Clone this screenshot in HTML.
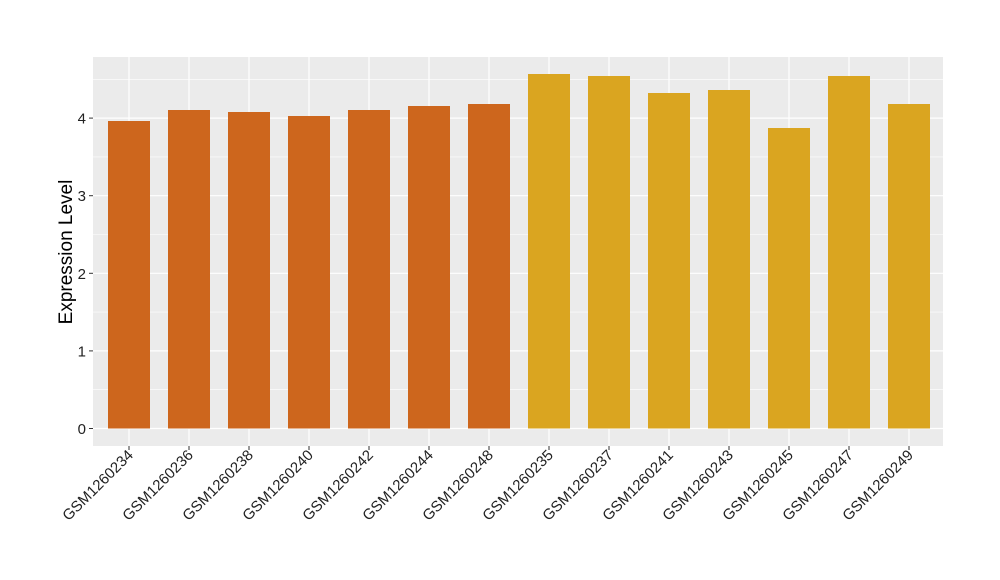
<!DOCTYPE html>
<html><head><meta charset="utf-8"><style>body{margin:0;background:#fff}svg{display:block}</style></head>
<body>
<svg width="1000" height="580" xmlns="http://www.w3.org/2000/svg" font-family="Liberation Sans, sans-serif">
<rect x="93" y="57" width="850" height="389" fill="#EBEBEB"/>
<g stroke="#fff" stroke-width="0.6">
<line x1="93" x2="943" y1="389.7" y2="389.7"/><line x1="93" x2="943" y1="312.1" y2="312.1"/><line x1="93" x2="943" y1="234.5" y2="234.5"/><line x1="93" x2="943" y1="156.9" y2="156.9"/><line x1="93" x2="943" y1="79.3" y2="79.3"/>
</g>
<g stroke="#fff" stroke-width="1.2">
<line x1="93" x2="943" y1="428.5" y2="428.5"/><line x1="93" x2="943" y1="350.9" y2="350.9"/><line x1="93" x2="943" y1="273.3" y2="273.3"/><line x1="93" x2="943" y1="195.7" y2="195.7"/><line x1="93" x2="943" y1="118.1" y2="118.1"/>
<line x1="129" x2="129" y1="57" y2="446"/><line x1="189" x2="189" y1="57" y2="446"/><line x1="249" x2="249" y1="57" y2="446"/><line x1="309" x2="309" y1="57" y2="446"/><line x1="369" x2="369" y1="57" y2="446"/><line x1="429" x2="429" y1="57" y2="446"/><line x1="489" x2="489" y1="57" y2="446"/><line x1="549" x2="549" y1="57" y2="446"/><line x1="609" x2="609" y1="57" y2="446"/><line x1="669" x2="669" y1="57" y2="446"/><line x1="729" x2="729" y1="57" y2="446"/><line x1="789" x2="789" y1="57" y2="446"/><line x1="849" x2="849" y1="57" y2="446"/><line x1="909" x2="909" y1="57" y2="446"/>
</g>
<g fill="#CD661D">
<rect x="108" y="121" width="42" height="307.5"/><rect x="168" y="110" width="42" height="318.5"/><rect x="228" y="112" width="42" height="316.5"/><rect x="288" y="116" width="42" height="312.5"/><rect x="348" y="110" width="42" height="318.5"/><rect x="408" y="106" width="42" height="322.5"/><rect x="468" y="104" width="42" height="324.5"/>
</g>
<g fill="#DAA520">
<rect x="528" y="74" width="42" height="354.5"/><rect x="588" y="76" width="42" height="352.5"/><rect x="648" y="93" width="42" height="335.5"/><rect x="708" y="90" width="42" height="338.5"/><rect x="768" y="128" width="42" height="300.5"/><rect x="828" y="76" width="42" height="352.5"/><rect x="888" y="104" width="42" height="324.5"/>
</g>
<g stroke="#333" stroke-width="1">
<line x1="89" x2="93" y1="428.5" y2="428.5"/><line x1="89" x2="93" y1="350.9" y2="350.9"/><line x1="89" x2="93" y1="273.3" y2="273.3"/><line x1="89" x2="93" y1="195.7" y2="195.7"/><line x1="89" x2="93" y1="118.1" y2="118.1"/>
</g>
<g font-size="15" fill="#222" text-anchor="end">
<text x="86" y="434">0</text><text x="86" y="356.4">1</text><text x="86" y="278.8">2</text><text x="86" y="201.2">3</text><text x="86" y="123.6">4</text>
</g>
<text transform="translate(72,252) rotate(-90)" font-size="19" text-anchor="middle" fill="#000">Expression Level</text>
<g font-size="15" fill="#222" text-anchor="end">
<text transform="translate(134,456) rotate(-45)">GSM1260234</text>
<text transform="translate(194,456) rotate(-45)">GSM1260236</text>
<text transform="translate(254,456) rotate(-45)">GSM1260238</text>
<text transform="translate(314,456) rotate(-45)">GSM1260240</text>
<text transform="translate(374,456) rotate(-45)">GSM1260242</text>
<text transform="translate(434,456) rotate(-45)">GSM1260244</text>
<text transform="translate(494,456) rotate(-45)">GSM1260248</text>
<text transform="translate(554,456) rotate(-45)">GSM1260235</text>
<text transform="translate(614,456) rotate(-45)">GSM1260237</text>
<text transform="translate(674,456) rotate(-45)">GSM1260241</text>
<text transform="translate(734,456) rotate(-45)">GSM1260243</text>
<text transform="translate(794,456) rotate(-45)">GSM1260245</text>
<text transform="translate(854,456) rotate(-45)">GSM1260247</text>
<text transform="translate(914,456) rotate(-45)">GSM1260249</text>
</g>
<g stroke="#333" stroke-width="1">
<line x1="129" x2="129" y1="446" y2="450"/><line x1="189" x2="189" y1="446" y2="450"/><line x1="249" x2="249" y1="446" y2="450"/><line x1="309" x2="309" y1="446" y2="450"/><line x1="369" x2="369" y1="446" y2="450"/><line x1="429" x2="429" y1="446" y2="450"/><line x1="489" x2="489" y1="446" y2="450"/><line x1="549" x2="549" y1="446" y2="450"/><line x1="609" x2="609" y1="446" y2="450"/><line x1="669" x2="669" y1="446" y2="450"/><line x1="729" x2="729" y1="446" y2="450"/><line x1="789" x2="789" y1="446" y2="450"/><line x1="849" x2="849" y1="446" y2="450"/><line x1="909" x2="909" y1="446" y2="450"/>
</g>
</svg>
</body></html>
